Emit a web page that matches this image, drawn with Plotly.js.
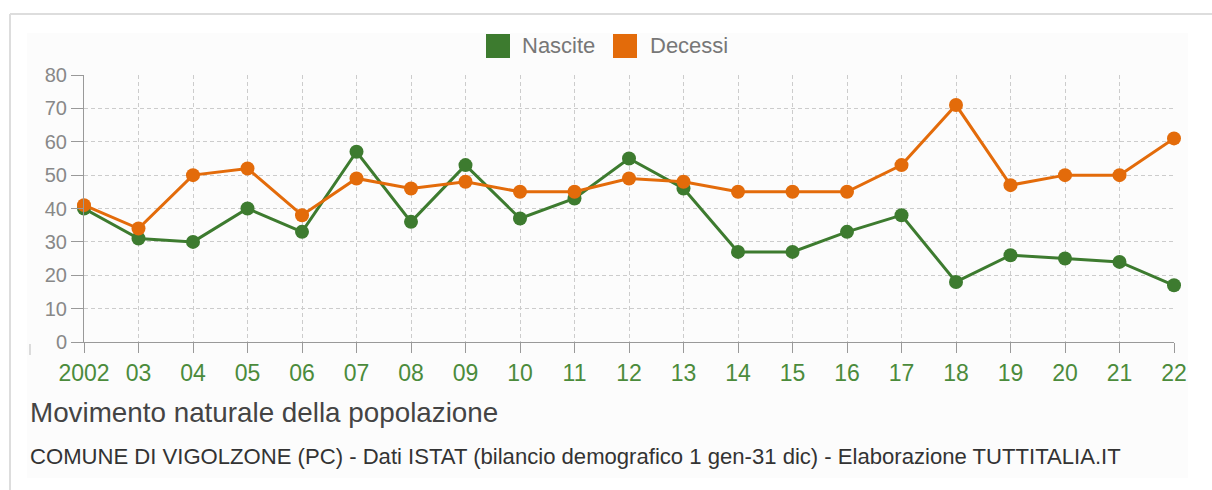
<!DOCTYPE html>
<html>
<head>
<meta charset="utf-8">
<script src="https://cdn.plot.ly/plotly-3.0.1.min.js"></script>
<style>
  html, body { margin: 0; padding: 0; background: #fff; }
  #chart { width: 1212px; height: 490px; }
</style>
</head>
<body>
<div id="chart"></div>
<script>
// ---- data ----
const years = [2002, 2003, 2004, 2005, 2006, 2007, 2008, 2009, 2010, 2011, 2012,
               2013, 2014, 2015, 2016, 2017, 2018, 2019, 2020, 2021, 2022];
const tickLabels = ["2002", "03", "04", "05", "06", "07", "08", "09", "10", "11", "12",
                    "13", "14", "15", "16", "17", "18", "19", "20", "21", "22"];
const nascite = [40, 31, 30, 40, 33, 57, 36, 53, 37, 43, 55, 46, 27, 27, 33, 38, 18, 26, 25, 24, 17];
const decessi = [41, 34, 50, 52, 38, 49, 46, 48, 45, 45, 49, 48, 45, 45, 45, 53, 71, 47, 50, 50, 61];
const seriesNames = ["Nascite", "Decessi"];
const yTicks = [0, 10, 20, 30, 40, 50, 60, 70, 80];

const green = "#3d7b2f";
const orange = "#e36b0a";

// ---- layout helpers (pixel -> paper) ----
const W = 1212, H = 490;
const M = { l: 84, r: 38, t: 75, b: 148 };
const PW = W - M.l - M.r, PH = H - M.t - M.b;
const px = x => (x - M.l) / PW;
const py = y => (H - M.b - y) / PH;

const traces = [
  {
    x: years, y: nascite, name: seriesNames[0], type: "scatter", mode: "lines+markers",
    line: { color: green, width: 3 }, marker: { color: green, size: 14 },
    cliponaxis: false, showlegend: false
  },
  {
    x: years, y: decessi, name: seriesNames[1], type: "scatter", mode: "lines+markers",
    line: { color: orange, width: 3 }, marker: { color: orange, size: 14 },
    cliponaxis: false, showlegend: false
  }
];

const shapes = [
  // inner panel
  { type: "rect", xref: "paper", yref: "paper", layer: "below",
    x0: px(27), x1: px(1188), y0: py(33), y1: py(478),
    fillcolor: "#fcfcfc", line: { width: 0 } },
  // outer border (top + left)
  { type: "line", xref: "paper", yref: "paper", x0: px(10), x1: px(1212), y0: py(14), y1: py(14),
    line: { color: "#dddddd", width: 2 } },
  { type: "line", xref: "paper", yref: "paper", x0: px(10), x1: px(10), y0: py(14), y1: py(490),
    line: { color: "#dddddd", width: 2 } },
  // small mark at bottom-left
  { type: "line", xref: "paper", yref: "paper", x0: px(30), x1: px(30), y0: py(344), y1: py(355),
    line: { color: "#bbbbbb", width: 1 } },
  // legend squares
  { type: "rect", xref: "paper", yref: "paper", x0: px(486), x1: px(510), y0: py(34), y1: py(58),
    fillcolor: green, line: { width: 0 } },
  { type: "rect", xref: "paper", yref: "paper", x0: px(613), x1: px(637), y0: py(34), y1: py(58),
    fillcolor: orange, line: { width: 0 } }
];

const font = "Liberation Sans, Arial, Helvetica, sans-serif";

const annotations = [
  { xref: "paper", yref: "paper", x: px(520), y: py(46), xanchor: "left", yanchor: "middle",
    text: seriesNames[0], showarrow: false, font: { family: font, size: 22, color: "#777" } },
  { xref: "paper", yref: "paper", x: px(648), y: py(46), xanchor: "left", yanchor: "middle",
    text: seriesNames[1], showarrow: false, font: { family: font, size: 22, color: "#777" } },
  { xref: "paper", yref: "paper", x: px(28), y: py(412), xanchor: "left", yanchor: "middle",
    text: "Movimento naturale della popolazione", showarrow: false,
    font: { family: font, size: 27.8, color: "#444" } },
  { xref: "paper", yref: "paper", x: px(28), y: py(456), xanchor: "left", yanchor: "middle",
    text: "COMUNE DI VIGOLZONE (PC) - Dati ISTAT (bilancio demografico 1 gen-31 dic) - Elaborazione TUTTITALIA.IT",
    showarrow: false, font: { family: font, size: 22.1, color: "#333" } }
];

const layout = {
  width: W, height: H,
  margin: M,
  paper_bgcolor: "#ffffff",
  plot_bgcolor: "rgba(0,0,0,0)",
  showlegend: false,
  font: { family: font },
  xaxis: {
    range: [2002, 2022], tickmode: "array", tickvals: years, ticktext: tickLabels,
    showgrid: true, gridcolor: "#cccccc", griddash: "4px,3px", gridwidth: 1,
    showline: true, linecolor: "#999999", linewidth: 1,
    ticks: "outside", ticklen: 10, tickcolor: "#999999",
    tickfont: { family: font, size: 23, color: "#4b8b3b" },
    zeroline: false, fixedrange: true
  },
  yaxis: {
    range: [0, 80], tickmode: "array", tickvals: yTicks,
    showgrid: true, gridcolor: "#cccccc", griddash: "4px,3px", gridwidth: 1,
    showline: true, linecolor: "#999999", linewidth: 1,
    ticks: "outside", ticklen: 12, tickcolor: "#999999",
    tickfont: { family: font, size: 20, color: "#888888" },
    zeroline: false, fixedrange: true
  },
  shapes: shapes,
  annotations: annotations
};

Plotly.newPlot("chart", traces, layout, { displayModeBar: false, staticPlot: true });
</script>
</body>
</html>
